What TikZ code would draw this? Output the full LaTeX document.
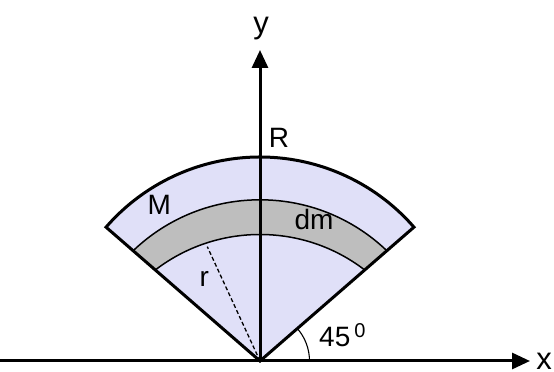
\documentclass[tikz,border=0pt]{standalone}
\usepackage{fontspec}
\setmainfont{Liberation Sans}
\usetikzlibrary{arrows.meta}
\definecolor{lav}{RGB}{224,224,248}
\definecolor{band}{RGB}{190,190,190}
\tikzset{
  axis/.style={line width=3pt,-{Triangle[length=18pt,width=16pt]}},
  rim/.style={line width=3pt,line join=miter},
  thinarc/.style={line width=1.5pt},
  lbl/.style={inner sep=0pt,anchor=base,font=\fontsize{28}{28}\selectfont},
  axlbl/.style={inner sep=0pt,anchor=base,font=\fontsize{31}{31}\selectfont},
}
\begin{document}
\begin{tikzpicture}[x=1pt,y=1pt]
\useasboundingbox (-260,-11) rectangle (294,361);
\coordinate (O) at (0,0);
\coordinate (xs) at (-262,0);
\coordinate (xe) at (270,0);
\coordinate (ye) at (0,311);
\coordinate (rend) at (-52.7,114.3);
% sector fill
\fill[lav] (O) -- (139:204) arc[start angle=139,end angle=41,radius=204] -- cycle;
% band, clipped to sector
\begin{scope}
\clip (O) -- (139:204) arc[start angle=139,end angle=41,radius=204] -- cycle;
\fill[band,even odd rule] (0,-22.2) circle[radius=183.4] (0,-45.7) circle[radius=172.2];
\draw[thinarc] (0,-22.2) circle[radius=183.4];
\draw[thinarc] (0,-45.7) circle[radius=172.2];
\end{scope}
% dashed radius
\draw[line width=1.3pt,dash pattern=on 4pt off 2.5pt] (O) -- (rend);
% sector outline
\draw[rim] (O) -- (139:204) arc[start angle=139,end angle=41,radius=204] -- cycle;
% angle arc
\draw[line width=1.1pt] (49.5,0) arc[start angle=0,end angle=41,radius=49.5];
% axes
\draw[axis] (xs) -- (xe);
\draw[axis] (O) -- (ye);
% labels
\node[axlbl] (ly) at (1,327) {y};
\node[axlbl] (lx) at (284,-8.5) {x};
\node[lbl] (lR) at (19,213.7) {R};
\node[lbl] (lM) at (-100.7,146) {M};
\node[lbl] (ldm) at (54,131) {dm};
\node[lbl] (lr) at (-55.7,74.3) {r};
\node[lbl,anchor=base west] (l45) at (59,14) {45\hspace{4pt}\raisebox{10pt}{\fontsize{20}{20}\selectfont 0}};
\end{tikzpicture}
\end{document}
